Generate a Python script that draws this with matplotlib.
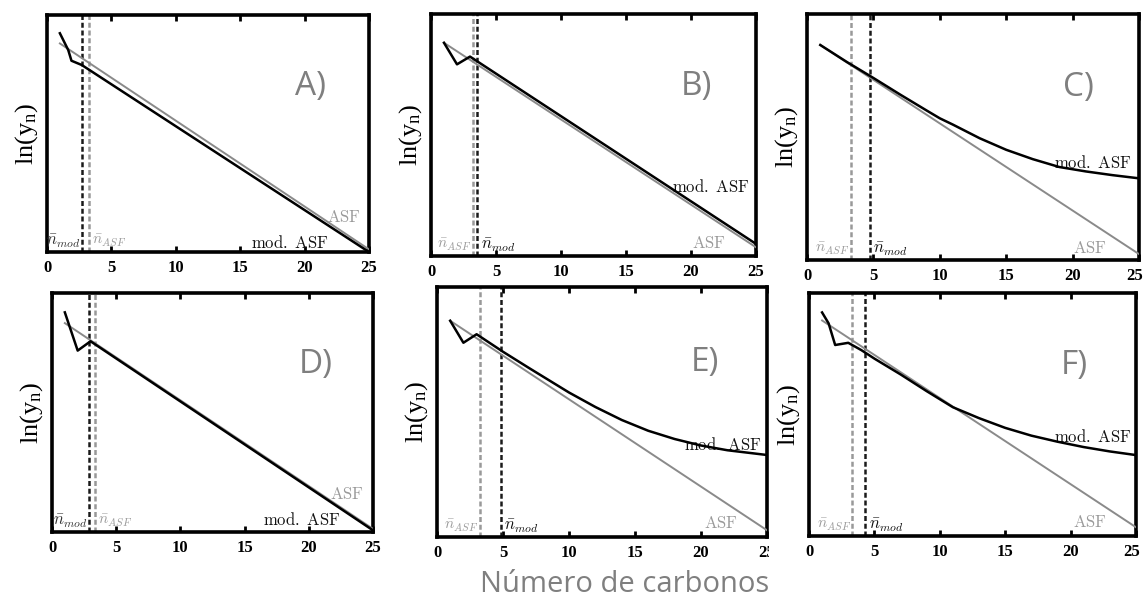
import matplotlib
matplotlib.use('Agg')
import matplotlib.pyplot as plt
import matplotlib.transforms as mtransforms
from matplotlib.patches import Rectangle

plt.rcParams['mathtext.fontset'] = 'cm'

# panel tags
panel_tags = ['A)', 'B)', 'C)', 'D)', 'E)', 'F)']

# ASF straight line: end points (n = 1 and n = 25), ln(y_n) in axis units
asf_n = [1, 25]
asf_A = [0.880, 0.011]
asf_B = [0.881, 0.036]
asf_C = [0.874, 0.024]
asf_D = [0.874, 0.013]
asf_E = [0.865, 0.027]
asf_F = [0.887, 0.036]

# modified ASF curves
mod_A_n = [1, 1.65, 1.9, 2.7, 25]
mod_A = [0.923, 0.852, 0.807, 0.789, 0.0]
mod_B_n = [1, 2, 3, 25]
mod_B = [0.881, 0.792, 0.824, 0.050]
mod_C_n = [1, 3, 5, 7, 9, 10, 11, 13, 15, 17, 19, 21, 23, 25]
mod_C = [0.874, 0.805, 0.740, 0.673, 0.608, 0.576, 0.550, 0.495, 0.448, 0.410, 0.378, 0.360, 0.345, 0.332]
mod_D_n = [1, 2, 3, 25]
mod_D = [0.919, 0.759, 0.798, 0.007]
mod_E_n = [1, 2, 3, 5, 7, 10, 12, 14, 16, 18, 20, 22, 25]
mod_E = [0.865, 0.777, 0.811, 0.741, 0.675, 0.578, 0.520, 0.468, 0.425, 0.392, 0.366, 0.347, 0.328]
mod_F_n = [1, 1.5, 2, 3, 4, 5, 7, 9, 11, 13, 15, 17, 19, 21, 23, 25]
mod_F = [0.920, 0.875, 0.786, 0.795, 0.765, 0.730, 0.665, 0.596, 0.530, 0.485, 0.445, 0.413, 0.388, 0.366, 0.348, 0.333]

# mean carbon number (dashed lines)
nbar_mod = [2.69, 3.56, 4.72, 2.86, 4.85, 4.31]
nbar_asf = [3.28, 3.20, 3.33, 3.32, 3.26, 3.32]

xticks = [0, 5, 10, 15, 20, 25]

asf_lines = [asf_A, asf_B, asf_C, asf_D, asf_E, asf_F]
mod_lines = [(mod_A_n, mod_A), (mod_B_n, mod_B), (mod_C_n, mod_C),
             (mod_D_n, mod_D), (mod_E_n, mod_E), (mod_F_n, mod_F)]

# axes boxes in pixels (left, top, right, bottom)
boxes = [(47, 15, 369, 252), (431, 14, 756, 256), (807, 14, 1139, 260),
         (52, 293, 373, 532), (437, 287, 767, 537), (809, 293, 1136, 536)]
# text anchors: (x right, y) for "ASF" and "mod. ASF"
asf_txt = [(24.4, 0.149), (22.7, 0.052), (22.6, 0.048), (24.3, 0.159), (22.8, 0.055), (22.8, 0.059)]
mod_txt = [(21.9, 0.037), (24.5, 0.286), (24.45, 0.396), (22.5, 0.050), (24.6, 0.368), (24.7, 0.409)]

W, H = 1145, 608
fig = plt.figure(figsize=(W / 100, H / 100), dpi=100)

gray_line = '#8a8a8a'
gray_txt = '#9a9a9a'
tag_gray = '#7f7f7f'
dash = (0, (2.0, 1.1))

for i, box in enumerate(boxes):
    l, t, r, b = box
    ax = fig.add_axes([l / W, 1 - b / H, (r - l) / W, (b - t) / H])
    ax.set_xlim(0, 25)
    ax.set_ylim(0, 1)

    ax.plot(asf_n, asf_lines[i], color=gray_line, lw=1.4, zorder=3)
    mn, mv = mod_lines[i]
    ax.plot(mn, mv, color='black', lw=1.8, zorder=4)

    ax.axvline(nbar_asf[i], color='#999999', lw=1.8, ls=dash, zorder=2)
    ax.axvline(nbar_mod[i], color='#1a1a1a', lw=1.8, ls=dash, zorder=2)

    # n-bar labels, placed either side of the dashed lines
    lab_mod = r'$\bar{n}_{mod}$'
    lab_asf = r'$\bar{n}_{ASF}$'
    if nbar_mod[i] < nbar_asf[i]:
        ax.text(nbar_mod[i] - 0.1, 0.045, lab_mod, ha='right', va='center', fontsize=12, color='#333333')
        ax.text(nbar_asf[i] + 0.25, 0.045, lab_asf, ha='left', va='center', fontsize=11, color=gray_txt)
    else:
        ax.text(nbar_asf[i] - 0.1, 0.045, lab_asf, ha='right', va='center', fontsize=11, color=gray_txt)
        ax.text(nbar_mod[i] + 0.25, 0.045, lab_mod, ha='left', va='center', fontsize=12, color='#111111')

    ax.text(asf_txt[i][0], asf_txt[i][1], r'$\mathrm{ASF}$', ha='right', va='center', fontsize=12, color=gray_txt)
    ax.text(mod_txt[i][0], mod_txt[i][1], r'$\mathrm{mod.\ ASF}$', ha='right', va='center', fontsize=12, color='#111111')

    ax.text(0.77, 0.70, panel_tags[i], transform=ax.transAxes, ha='left', va='center',
            fontsize=24, color=tag_gray, family='Open Sans')

    ax.set_ylabel(r'$\mathregular{ln(y_n)}$', fontsize=19, family='Liberation Serif', labelpad=5)
    ax.set_xticks(xticks)
    ax.set_xticklabels([str(v) for v in xticks], family='Liberation Serif', fontsize=12, fontweight='bold')
    ax.set_yticks([])
    ax.tick_params(axis='x', direction='in', top=True, length=4, width=2, pad=6)
    for s in ax.spines.values():
        s.set_linewidth(2.6)

    # keep the right-most label of the right column inside the picture
    if r > 1130:
        last = ax.get_xticklabels()[-1]
        last.set_transform(last.get_transform() + mtransforms.ScaledTranslation(-4 / 100, 0, fig.dpi_scale_trans))

# the screenshot crops the last tick label of panel E
fig.patches.append(Rectangle((769 / W, 1 - 560 / H), 30 / W, 20 / H, transform=fig.transFigure,
                             facecolor='white', edgecolor='none', zorder=10))

fig.text(625 / W, 1 - 585 / H, 'Número de carbonos', ha='center', va='center',
         fontsize=21, color=tag_gray, family='Open Sans')

fig.savefig('out.png', dpi=100)
